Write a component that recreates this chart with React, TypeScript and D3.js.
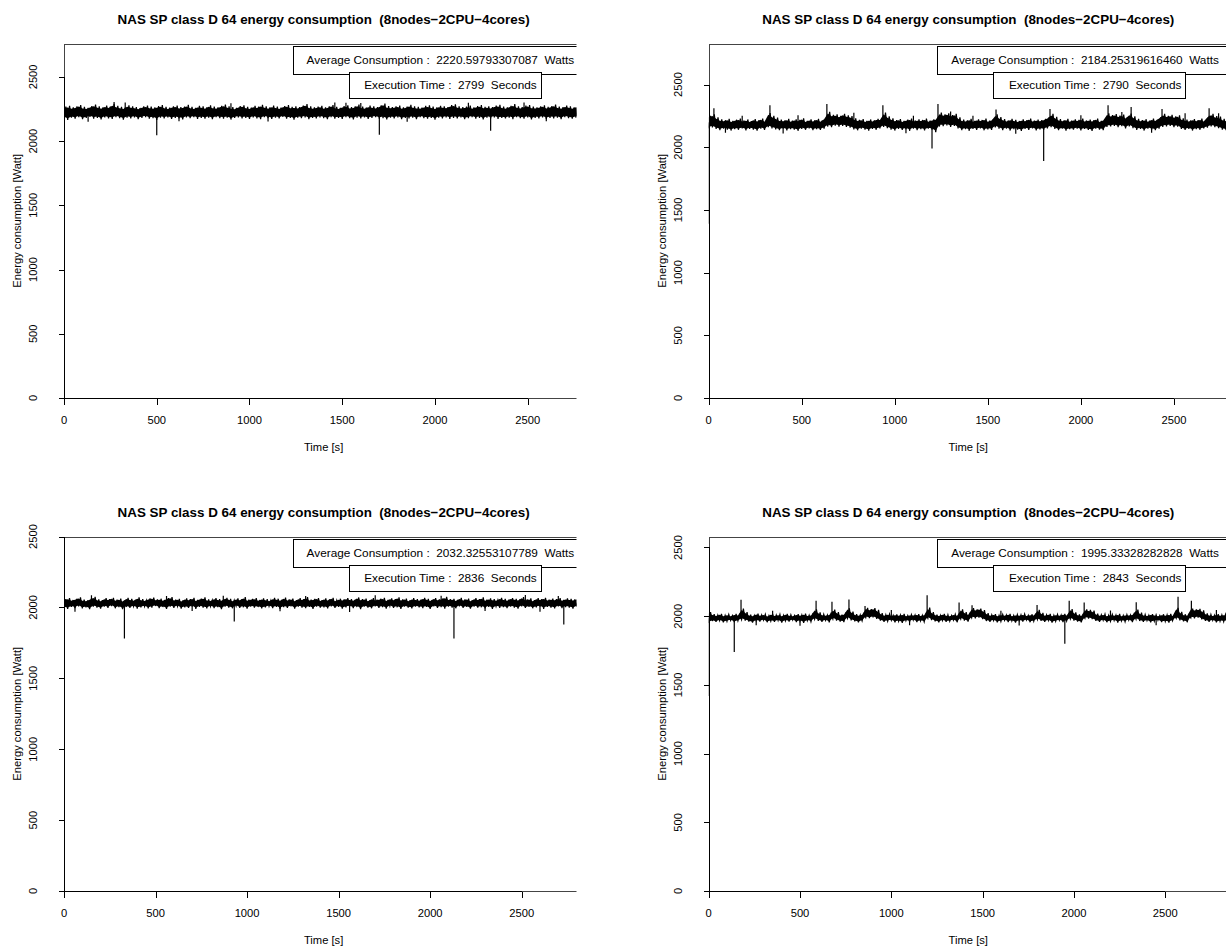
import React from "react";
import * as d3 from "d3";

// ---------- text ----------
const TITLE = "NAS SP class D 64 energy consumption  (8nodes\u22122CPU\u22124cores)";
const X_LABEL = "Time [s]";
const Y_LABEL = "Energy consumption [Watt]";
const X_TICKS = [0, 500, 1000, 1500, 2000, 2500];
const Y_TICKS = [0, 500, 1000, 1500, 2000, 2500];

// ---------- per-panel facts ----------
const averages = ["2220.59793307087", "2184.25319616460", "2032.32553107789", "1995.33328282828"];
const execTimes = [2799, 2790, 2836, 2843];
const yMaxes = [2760, 2827, 2500, 2580];

// envelope of the noisy trace, one low/high pair per 20 s bin
const BIN = 20;

const p1Hi = [
  2268, 2275, 2262, 2270, 2281, 2266, 2259, 2272, 2284, 2270,
  2263, 2277, 2269, 2290, 2274, 2266, 2261, 2279, 2271, 2265,
  2258, 2270, 2276, 2268, 2262, 2273, 2280, 2267, 2260, 2271,
  2277, 2264, 2269, 2282, 2266, 2259, 2274, 2270, 2263, 2278,
  2268, 2262, 2275, 2285, 2270, 2264, 2258, 2272, 2279, 2266,
  2261, 2274, 2268, 2283, 2270, 2263, 2276, 2269, 2260, 2273,
  2280, 2266, 2271, 2264, 2277, 2288, 2270, 2262, 2268, 2275,
  2263, 2270, 2281, 2267, 2259, 2273, 2278, 2265, 2270, 2284,
  2268, 2261, 2276, 2270, 2264, 2279, 2292, 2272, 2265, 2270,
  2277, 2263, 2268, 2282, 2271, 2266, 2260, 2274, 2279, 2268,
  2262, 2275, 2270, 2265, 2280, 2286, 2271, 2264, 2269, 2276,
  2262, 2273, 2280, 2267, 2271, 2264, 2277, 2283, 2269, 2262,
  2274, 2288, 2270, 2265, 2276, 2281, 2268, 2263, 2271, 2279,
  2266, 2272, 2285, 2269, 2264, 2276, 2270, 2262, 2274, 2268,
];
const p1Lo = [
  2178, 2165, 2182, 2175, 2186, 2170, 2180, 2188, 2174, 2181,
  2169, 2184, 2177, 2172, 2186, 2179, 2168, 2183, 2176, 2185,
  2171, 2180, 2187, 2174, 2179, 2166, 2182, 2177, 2185, 2172,
  2180, 2176, 2169, 2184, 2178, 2187, 2173, 2181, 2175, 2183,
  2170, 2186, 2179, 2174, 2182, 2168, 2180, 2185, 2176, 2181,
  2173, 2184, 2177, 2170, 2186, 2179, 2172, 2183, 2176, 2188,
  2174, 2180, 2167, 2182, 2178, 2185, 2171, 2180, 2176, 2184,
  2179, 2170, 2186, 2175, 2181, 2173, 2187, 2178, 2169, 2183,
  2176, 2184, 2172, 2180, 2186, 2174, 2179, 2168, 2182, 2177,
  2185, 2171, 2180, 2176, 2183, 2170, 2186, 2179, 2174, 2181,
  2167, 2183, 2177, 2185, 2172, 2180, 2176, 2184, 2171, 2179,
  2186, 2174, 2181, 2169, 2183, 2177, 2185, 2173, 2180, 2176,
  2182, 2170, 2186, 2178, 2174, 2184, 2169, 2181, 2177, 2185,
  2172, 2180, 2176, 2183, 2171, 2186, 2178, 2174, 2182, 2179,
];
// isolated samples: [time s, watts]
const p1Spikes = [
  [1, 1470], [500, 2045], [1700, 2050], [2300, 2080],
  [270, 2305], [330, 2300], [900, 2295], [1460, 2300], [1520, 2298], [1600, 2296], [2180, 2298], [2480, 2300],
  [130, 2150], [620, 2155], [1100, 2152], [1850, 2150], [2600, 2155],
];

const p2Hi = [
  2250, 2262, 2238, 2222, 2215, 2226, 2210, 2219, 2228, 2213,
  2221, 2208, 2224, 2216, 2229, 2212, 2272, 2250, 2236, 2220,
  2214, 2226, 2211, 2223, 2218, 2230, 2209, 2222, 2215, 2227,
  2212, 2232, 2282, 2258, 2262, 2250, 2266, 2255, 2248, 2230,
  2218, 2225, 2210, 2221, 2214, 2227, 2226, 2276, 2246, 2230,
  2216, 2224, 2209, 2220, 2228, 2213, 2222, 2217, 2229, 2211,
  2223, 2232, 2276, 2262, 2270, 2256, 2266, 2238, 2220, 2214,
  2226, 2210, 2222, 2217, 2228, 2212, 2224, 2262, 2240, 2225,
  2213, 2227, 2218, 2209, 2223, 2215, 2229, 2212, 2221, 2216,
  2226, 2240, 2266, 2242, 2224, 2214, 2227, 2211, 2222, 2218,
  2229, 2213, 2220, 2216, 2228, 2210, 2224, 2270, 2256, 2264,
  2252, 2260, 2240, 2268, 2246, 2226, 2216, 2223, 2211, 2228,
  2219, 2240, 2266, 2250, 2258, 2246, 2254, 2230, 2220, 2213,
  2225, 2216, 2228, 2212, 2250, 2266, 2248, 2244, 2226, 2216,
];
const p2Lo = [
  2150, 2158, 2146, 2136, 2148, 2140, 2133, 2145, 2139, 2150,
  2135, 2147, 2141, 2132, 2149, 2138, 2160, 2150, 2142, 2136,
  2148, 2134, 2145, 2140, 2131, 2147, 2139, 2150, 2136, 2144,
  2138, 2149, 2165, 2160, 2172, 2164, 2170, 2162, 2155, 2142,
  2135, 2148, 2140, 2132, 2146, 2139, 2150, 2162, 2152, 2140,
  2133, 2147, 2138, 2144, 2131, 2149, 2137, 2145, 2134, 2148,
  2140, 2120, 2165, 2168, 2174, 2162, 2170, 2150, 2136, 2145,
  2131, 2147, 2139, 2150, 2135, 2143, 2138, 2158, 2147, 2136,
  2149, 2133, 2144, 2140, 2130, 2147, 2138, 2150, 2134, 2142,
  2139, 2150, 2160, 2146, 2135, 2148, 2132, 2144, 2140, 2149,
  2134, 2146, 2138, 2131, 2148, 2140, 2137, 2162, 2165, 2170,
  2160, 2168, 2150, 2166, 2152, 2138, 2146, 2133, 2149, 2140,
  2136, 2148, 2162, 2166, 2170, 2160, 2164, 2145, 2138, 2147,
  2133, 2145, 2139, 2150, 2156, 2165, 2160, 2152, 2140, 2136,
];
const p2Spikes = [
  [1, 1390], [28, 2310], [329, 2335], [635, 2345], [936, 2335], [1200, 1990], [1232, 2345],
  [1544, 2300], [1800, 1890], [1834, 2305], [2146, 2335], [2270, 2320], [2436, 2305], [2689, 2310],
  [180, 2250], [480, 2255], [780, 2275], [1100, 2250], [1300, 2285], [1420, 2250], [2000, 2255],
  [2220, 2280], [2560, 2270], [2740, 2270],
  [90, 2115], [400, 2110], [1060, 2112], [1650, 2108], [2380, 2115],
];

const p3Hi = [
  2058, 2066, 2052, 2061, 2070, 2055, 2049, 2063, 2074, 2057,
  2051, 2065, 2059, 2068, 2054, 2062, 2048, 2067, 2060, 2053,
  2071, 2058, 2050, 2064, 2069, 2056, 2061, 2052, 2066, 2073,
  2055, 2060, 2049, 2064, 2058, 2067, 2053, 2062, 2070, 2056,
  2051, 2065, 2059, 2054, 2068, 2061, 2050, 2063, 2057, 2072,
  2055, 2060, 2066, 2052, 2064, 2058, 2049, 2067, 2061, 2054,
  2069, 2056, 2062, 2051, 2065, 2059, 2073, 2055, 2060, 2066,
  2052, 2063, 2057, 2068, 2050, 2061, 2056, 2065, 2059, 2053,
  2070, 2058, 2062, 2049, 2066, 2055, 2061, 2067, 2053, 2064,
  2058, 2071, 2056, 2062, 2050, 2065, 2059, 2054, 2068, 2060,
  2052, 2066, 2057, 2063, 2075, 2058, 2061, 2053, 2067, 2056,
  2062, 2050, 2065, 2059, 2070, 2055, 2063, 2058, 2052, 2068,
  2060, 2054, 2066, 2061, 2057, 2073, 2056, 2063, 2051, 2065,
  2059, 2068, 2055, 2062, 2058, 2066, 2053, 2064, 2060, 2057,
  2063, 2055,
];
const p3Lo = [
  1998, 1990, 2004, 1995, 2008, 1993, 2001, 1987, 2006, 1999,
  1992, 2005, 1997, 2009, 1994, 2002, 1988, 2003, 1996, 2007,
  1991, 2000, 2006, 1993, 1999, 2010, 1995, 2003, 1989, 2005,
  1997, 2008, 1992, 2001, 1996, 2006, 1990, 2004, 1998, 1993,
  2007, 1995, 2002, 1988, 2005, 1999, 1994, 2009, 1996, 2001,
  1991, 2006, 1998, 2003, 1993, 2000, 2008, 1995, 2004, 1989,
  2002, 1997, 2007, 1992, 2005, 1999, 1994, 2003, 1990, 2006,
  1998, 2001, 1993, 2008, 1996, 2004, 1991, 2000, 2006, 1995,
  2003, 1988, 2005, 1999, 1994, 2007, 1997, 2002, 1992, 2009,
  1996, 2001, 1990, 2005, 1998, 1993, 2006, 2000, 1995, 2004,
  1989, 2007, 1997, 2002, 1992, 2005, 1999, 1994, 2008, 1996,
  2003, 1991, 2006, 1998, 2001, 1993, 2004, 1990, 2007, 1997,
  2002, 1995, 2005, 1999, 1992, 2008, 1996, 2003, 1994, 2000,
  2006, 1990, 2004, 1998, 1993, 2007, 1995, 2002, 1999, 1991,
  2005, 1997,
];
const p3Spikes = [
  [1, 1550], [330, 1780], [930, 1900], [2130, 1780], [2730, 1880],
  [150, 2085], [560, 2080], [870, 2082], [1320, 2080], [1700, 2085], [2060, 2082], [2520, 2088], [2700, 2080],
  [60, 1970], [700, 1975], [1180, 1972], [1560, 1968], [2300, 1975], [2600, 1970],
];

const p4Hi = [
  2030, 2015, 2008, 2017, 2006, 2013, 2004, 2016, 2010, 2055,
  2030, 2012, 2005, 2018, 2009, 2014, 2003, 2016, 2008, 2013,
  2006, 2017, 2010, 2004, 2015, 2009, 2018, 2007, 2012, 2050,
  2028, 2014, 2008, 2016, 2048, 2030, 2012, 2018, 2058, 2034,
  2015, 2009, 2017, 2060, 2052, 2058, 2046, 2022, 2010, 2016,
  2005, 2013, 2008, 2017, 2004, 2012, 2009, 2015, 2006, 2014,
  2062, 2030, 2012, 2007, 2016, 2010, 2005, 2014, 2009, 2050,
  2030, 2016, 2058, 2050, 2056, 2044, 2022, 2010, 2015, 2006,
  2013, 2008, 2017, 2004, 2012, 2009, 2016, 2005, 2014, 2010,
  2046, 2024, 2010, 2016, 2006, 2013, 2008, 2017, 2011, 2052,
  2028, 2014, 2008, 2050, 2046, 2040, 2018, 2009, 2015, 2006,
  2013, 2008, 2017, 2005, 2012, 2009, 2016, 2048, 2026, 2012,
  2007, 2015, 2010, 2004, 2014, 2009, 2017, 2006, 2060, 2032,
  2014, 2010, 2056, 2050, 2054, 2042, 2020, 2012, 2006, 2015,
  2009, 2013, 2008,
];
const p4Lo = [
  1950, 1965, 1958, 1968, 1955, 1963, 1970, 1957, 1966, 1975,
  1968, 1960, 1954, 1967, 1961, 1971, 1956, 1964, 1959, 1969,
  1953, 1966, 1961, 1972, 1957, 1965, 1952, 1968, 1960, 1978,
  1966, 1958, 1970, 1955, 1980, 1968, 1961, 1957, 1985, 1970,
  1962, 1955, 1966, 1990, 1985, 1992, 1980, 1968, 1958, 1964,
  1970, 1956, 1963, 1952, 1967, 1960, 1971, 1957, 1965, 1959,
  1985, 1972, 1962, 1955, 1968, 1958, 1964, 1971, 1956, 1980,
  1968, 1960, 1988, 1984, 1990, 1978, 1965, 1958, 1969, 1955,
  1962, 1970, 1957, 1966, 1953, 1968, 1960, 1972, 1956, 1964,
  1975, 1966, 1958, 1969, 1954, 1963, 1970, 1957, 1965, 1980,
  1968, 1960, 1955, 1985, 1982, 1978, 1966, 1958, 1970, 1956,
  1963, 1969, 1954, 1966, 1960, 1971, 1957, 1978, 1965, 1959,
  1968, 1955, 1964, 1970, 1957, 1962, 1953, 1967, 1985, 1970,
  1962, 1956, 1988, 1984, 1990, 1976, 1966, 1958, 1969, 1955,
  1963, 1960, 1966,
];
const p4Spikes = [
  [1, 1420], [140, 1740], [177, 2120], [588, 2112], [675, 2105], [768, 2122], [856, 2075],
  [1196, 2152], [1371, 2100], [1442, 2080], [1798, 2082], [1950, 1800], [1974, 2112],
  [2056, 2100], [2341, 2102], [2570, 2142], [2643, 2112],
  [350, 2040], [1000, 2045], [1600, 2040], [2200, 2042], [2780, 2045],
  [260, 1935], [500, 1930], [1100, 1935], [1700, 1932], [2450, 1935],
];

const highs = [p1Hi, p2Hi, p3Hi, p4Hi];
const lows = [p1Lo, p2Lo, p3Lo, p4Lo];
const spikes = [p1Spikes, p2Spikes, p3Spikes, p4Spikes];

// ---------- layout ----------
const W = 1226;
const H = 949;
const COL_LEFT = [64, 708.7];
const COL_CLIP = [576.5, 1226];
const ROW_TOP = [43.5, 536.5];
const PLOT_W = 519.2;
const PLOT_H = 354.5;
const FONT = "'Liberation Sans', Arial, Helvetica, sans-serif";
const FS = 11.2;
const FS_LEG = 11.8;

function Panel({ k }: { k: number }) {
  const col = k % 2;
  const row = Math.floor(k / 2);
  const left = COL_LEFT[col];
  const top = ROW_TOP[row];
  const right = left + PLOT_W;
  const bottom = top + PLOT_H;
  const x = d3.scaleLinear().domain([0, execTimes[k]]).range([left, right]);
  const y = d3.scaleLinear().domain([0, yMaxes[k]]).range([bottom, top]);
  const hi = highs[k];
  const lo = lows[k];
  const idx = d3.range(hi.length);
  // solid core of the band
  const core = d3
    .area<number>()
    .x((i) => x(i * BIN))
    .y0((i) => y(lo[i] + (hi[i] - lo[i]) * 0.12))
    .y1((i) => y(hi[i] - (hi[i] - lo[i]) * 0.12));
  // the trace swinging between the low and high of each bin
  const zig: [number, number][] = [];
  idx.forEach((i) => {
    zig.push([i * BIN, lo[i]]);
    zig.push([i * BIN + BIN / 2, hi[i]]);
  });
  const mid = (t: number) => {
    const i = Math.max(0, Math.min(hi.length - 1, Math.round(t / BIN)));
    return (hi[i] + lo[i]) / 2;
  };
  const line = d3.line<[number, number]>().x((d) => x(d[0])).y((d) => y(d[1]));
  const xl = Math.round(left) + 0.5;
  const yb = Math.round(bottom) + 0.5;

  const leg1Left = right - 290.5;
  const leg2Left = right - 234.5;
  const leg2Right = right - 42.5;

  return (
    <g clipPath={`url(#col-${col})`}>
      <text
        x={(left + right) / 2}
        y={top - 24}
        textAnchor="middle"
        dominantBaseline="central"
        fontWeight="bold"
        fontSize={13.4}
        style={{ whiteSpace: "pre" }}
      >
        {TITLE}
      </text>
      <g clipPath={`url(#plot-${k})`}>
        <path d={core(idx) || ""} fill="#000" stroke="none" />
        <path d={line(zig) || ""} fill="none" stroke="#000" strokeWidth={1.2} />
        {spikes[k].map((s, j) => (
          <path
            key={j}
            d={line([[s[0], mid(s[0])], [s[0], s[1]]]) || ""}
            stroke="#000"
            strokeWidth={1.2}
            fill="none"
          />
        ))}
      </g>
      {/* box */}
      <rect
        x={xl}
        y={Math.round(top) + 0.5}
        width={right - xl}
        height={yb - (Math.round(top) + 0.5)}
        fill="none"
        stroke="#444"
        strokeWidth={1}
      />
      {/* legends */}
      <rect
        x={Math.round(leg1Left) + 0.5}
        y={Math.round(top) + 2.5}
        width={right + 20 - leg1Left}
        height={28}
        fill="#fff"
        stroke="#000"
      />
      <text
        x={right - 9}
        y={top + 16.5}
        textAnchor="end"
        dominantBaseline="central"
        fontSize={FS_LEG}
        style={{ whiteSpace: "pre" }}
      >
        {`Average Consumption :  ${averages[k]}  Watts`}
      </text>
      <rect
        x={Math.round(leg2Left) + 0.5}
        y={Math.round(top) + 28.5}
        width={leg2Right - leg2Left}
        height={26}
        fill="#fff"
        stroke="#000"
      />
      <text
        x={leg2Right - 4}
        y={top + 41.5}
        textAnchor="end"
        dominantBaseline="central"
        fontSize={FS_LEG}
        style={{ whiteSpace: "pre" }}
      >
        {`Execution Time :  ${execTimes[k]}  Seconds`}
      </text>
      {/* x axis */}
      <path
        d={`M${x(X_TICKS[0])},${yb}H${x(X_TICKS[X_TICKS.length - 1])}`}
        stroke="#000"
        shapeRendering="crispEdges"
      />
      {X_TICKS.map((t) => (
        <g key={t}>
          <path
            d={`M${Math.round(x(t)) + 0.5},${yb}v6`}
            stroke="#000"
            shapeRendering="crispEdges"
          />
          <text
            x={x(t)}
            y={yb + 21}
            textAnchor="middle"
            dominantBaseline="central"
            fontSize={FS}
          >
            {t}
          </text>
        </g>
      ))}
      <text
        x={(left + right) / 2}
        y={bottom + 49}
        textAnchor="middle"
        dominantBaseline="central"
        fontSize={FS}
      >
        {X_LABEL}
      </text>
      {/* y axis */}
      <path
        d={`M${xl},${y(Y_TICKS[0])}V${y(Y_TICKS[Y_TICKS.length - 1])}`}
        stroke="#000"
        shapeRendering="crispEdges"
      />
      {Y_TICKS.map((t) => (
        <g key={t}>
          <path
            d={`M${xl},${Math.round(y(t)) + 0.5}h-6`}
            stroke="#000"
            shapeRendering="crispEdges"
          />
          <text
            transform={`translate(${left - 31},${y(t)}) rotate(-90)`}
            textAnchor="middle"
            dominantBaseline="central"
            fontSize={FS}
          >
            {t}
          </text>
        </g>
      ))}
      <text
        transform={`translate(${left - 47},${(top + bottom) / 2}) rotate(-90)`}
        textAnchor="middle"
        dominantBaseline="central"
        fontSize={FS}
      >
        {Y_LABEL}
      </text>
    </g>
  );
}

export default function App() {
  React.useEffect(() => {
    document.body.style.margin = "0";
  }, []);
  return (
    <svg
      width={W}
      height={H}
      viewBox={`0 0 ${W} ${H}`}
      style={{ position: "absolute", left: 0, top: 0, display: "block", background: "#fff" }}
      fontFamily={FONT}
    >
      <defs>
        {COL_CLIP.map((c, i) => (
          <clipPath id={`col-${i}`} key={i}>
            <rect x={i === 0 ? 0 : COL_CLIP[0] + 1} y={0} width={c - (i === 0 ? 0 : COL_CLIP[0] + 1)} height={H} />
          </clipPath>
        ))}
        {[0, 1, 2, 3].map((k) => {
          const col = k % 2;
          const row = Math.floor(k / 2);
          return (
            <clipPath id={`plot-${k}`} key={k}>
              <rect x={COL_LEFT[col]} y={ROW_TOP[row]} width={PLOT_W} height={PLOT_H} />
            </clipPath>
          );
        })}
      </defs>
      <rect x={0} y={0} width={W} height={H} fill="#fff" />
      {[0, 1, 2, 3].map((k) => (
        <Panel k={k} key={k} />
      ))}
    </svg>
  );
}
